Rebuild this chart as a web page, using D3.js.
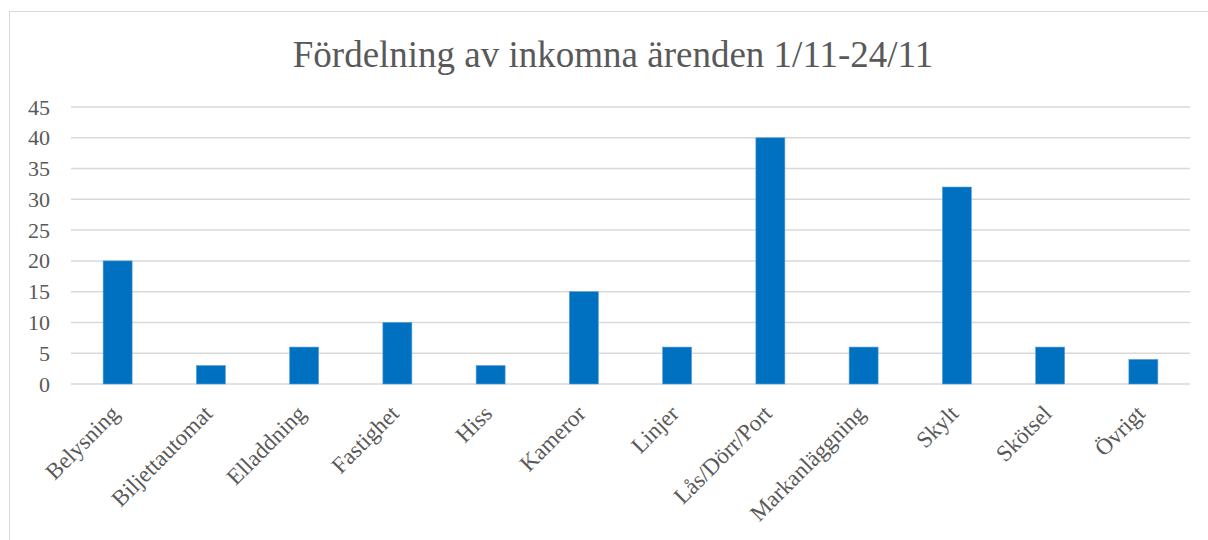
<!DOCTYPE html>
<html>
<head>
<meta charset="utf-8">
<script src="https://cdn.jsdelivr.net/npm/d3@7"></script>
<style>
  body{margin:0;background:#fff;}
  svg{display:block;}
</style>
</head>
<body>
<svg id="chart" width="1208" height="540"></svg>
<script>
var categories=["Belysning","Biljettautomat","Elladdning","Fastighet","Hiss","Kameror","Linjer","Lås/Dörr/Port","Markanläggning","Skylt","Skötsel","Övrigt"];
var values=[20,3,6,10,3,15,6,40,6,32,6,4];
var yTicks=[0,5,10,15,20,25,30,35,40,45];
var titleText="Fördelning av inkomna ärenden 1/11-24/11";

(function(){
  var svg=d3.select("#chart");
  var font="'Liberation Serif','Times New Roman',serif";
  var textColor="#595959";

  // chart frame (runs off right and bottom edge)
  svg.append("rect")
    .attr("x",9.5).attr("y",11.5)
    .attr("width",1220).attr("height",560)
    .attr("fill","#fff")
    .attr("stroke","#d9d9d9")
    .attr("stroke-width",1);

  var plotL=71, plotR=1190, plotT=107, plotB=384;

  var x=d3.scaleBand().domain(categories).range([plotL,plotR]);
  var y=d3.scaleLinear().domain([0,45]).range([plotB,plotT]);

  // gridlines
  svg.append("g")
    .selectAll("line")
    .data(yTicks)
    .enter().append("line")
      .attr("x1",plotL).attr("x2",plotR)
      .attr("y1",function(d){return y(d);})
      .attr("y2",function(d){return y(d);})
      .attr("stroke","#d9d9d9")
      .attr("stroke-width",1.5);

  // y axis labels
  var yg=svg.append("g").attr("transform","translate(50,0)")
    .call(d3.axisLeft(y).tickValues(yTicks).tickSize(0).tickPadding(0));
  yg.select(".domain").remove();
  yg.selectAll("text")
    .attr("font-family",font)
    .attr("font-size",22)
    .attr("fill",textColor);

  // bars
  var barW=29;
  svg.append("g")
    .selectAll("rect")
    .data(values)
    .enter().append("rect")
      .attr("x",function(d,i){return x(categories[i])+x.bandwidth()/2-barW/2;})
      .attr("y",function(d){return y(d);})
      .attr("width",barW)
      .attr("height",function(d){return y(0)-y(d);})
      .attr("fill","#0070c0")
      .attr("stroke","#5aa0dc")
      .attr("stroke-width",0.6);

  // x axis labels
  var xg=svg.append("g").attr("transform","translate(0,"+plotB+")")
    .call(d3.axisBottom(x).tickSize(0).tickPadding(0));
  xg.select(".domain").remove();
  xg.selectAll("text")
    .attr("font-family",font)
    .attr("font-size",23)
    .attr("fill",textColor)
    .attr("text-anchor","end")
    .attr("dy",0)
    .attr("transform","translate(3,31) rotate(-45)");

  // title
  svg.append("text")
    .attr("x",613).attr("y",67)
    .attr("text-anchor","middle")
    .attr("font-family",font)
    .attr("font-size",37)
    .attr("fill",textColor)
    .text(titleText);
})();
</script>
</body>
</html>
